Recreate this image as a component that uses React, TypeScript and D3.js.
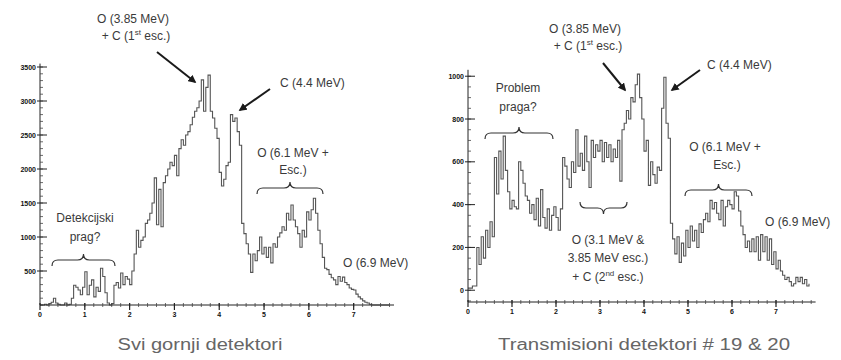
import React from "react";
import * as d3 from "d3";

// energy bins of 0.05 MeV, starting at 0
const BIN = 0.05;
const energyTicks = [0, 1, 2, 3, 4, 5, 6, 7];

// Svi gornji detektori
const gornjiCounts = [
  0, 0, 10, 0, 20, 40, 100, 30, 10, 0, 0, 30, 0, 10, 100, 290, 260, 220, 150, 260,
  490, 150, 290, 370, 120, 260, 200, 540, 420, 180, 30, 0, 20, 290, 330, 250, 470, 300, 420, 380,
  300, 500, 750, 1100, 850, 950, 1000, 1200, 1250, 1350, 1500, 1870, 1180, 1700, 1150, 1800, 1900, 2000, 2100, 2050,
  2200, 1900, 2300, 2430, 2350, 2500, 2550, 2650, 2760, 2850, 2900, 3000, 3310, 2850, 3200, 3380, 2850, 2750, 2600, 2450,
  1950, 1750, 1850, 2050, 2100, 2800, 2700, 2750, 2550, 2350, 1200, 1050, 900, 750, 480, 750, 650, 800, 1000, 750,
  850, 700, 850, 620, 900, 850, 1000, 1060, 1150, 1100, 1350, 1250, 1470, 1250, 1150, 1050, 850, 1100, 1000, 1370,
  1250, 1400, 1570, 1350, 1100, 900, 700, 540, 520, 450, 400, 370, 300, 420, 350, 410, 330, 300, 250, 230,
  220, 160, 120, 90, 60, 40, 30, 10, 0, 0, 0, 0, 0, 0, 0, 0, 0,
];
const gornjiTicks = [500, 1000, 1500, 2000, 2500, 3000, 3500];

// Transmisioni detektori # 19 & 20
const transCounts = [
  10, 10, 20, 20, 200, 120, 250, 150, 280, 200, 320, 250, 620, 450, 650, 520, 720, 560, 460, 380,
  420, 390, 380, 600, 560, 500, 440, 420, 360, 400, 330, 430, 300, 470, 340, 290, 380, 280, 350, 390,
  340, 280, 380, 620, 580, 520, 480, 600, 550, 750, 580, 640, 560, 720, 600, 480, 700, 620, 680, 650,
  700, 600, 690, 620, 680, 600, 660, 620, 700, 510, 750, 780, 840, 800, 900, 880, 960, 1010, 900, 800,
  650, 700, 490, 600, 540, 500, 575, 560, 850, 995, 780, 710, 313, 240, 170, 250, 130, 220, 160, 280,
  200, 300, 230, 280, 200, 310, 270, 330, 360, 320, 420, 380, 410, 360, 330, 420, 300, 390, 420, 400,
  380, 460, 440, 370, 300, 260, 200, 230, 180, 240, 180, 250, 140, 260, 180, 250, 140, 240, 120, 180,
  100, 140, 90, 70, 50, 60, 40, 20, 30, 60, 40, 60, 30, 50, 20, 30,
];
const transTicks = [0, 200, 400, 600, 800, 1000];

const font = "Liberation Sans, Arial, sans-serif";

function Spectrum({ counts, xScale, yScale, yTicks, yMinor }) {
  const x0 = xScale.range()[0];
  const x1 = xScale.range()[1];
  const yBase = yScale.range()[0];
  const yTop = yScale.range()[1];
  const [d0, d1] = yScale.domain();

  const line = d3
    .line<number>()
    .x((_, i) => xScale(i * BIN))
    .y((d) => yScale(d))
    .curve(d3.curveStepAfter);

  const xMinor = d3.range(0.2, 7.81, 0.2);
  const yMinorTicks = d3.range(Math.ceil(d0 / yMinor) * yMinor, d1, yMinor);

  return (
    <g>
      <path d={line(counts)} fill="none" stroke="#555" strokeWidth={1.1} />
      {/* y axis */}
      <line x1={x0} x2={x0} y1={yBase} y2={yTop} stroke="#222" strokeWidth={1} />
      {yMinorTicks.map((t) => (
        <line key={"ym" + t} x1={x0} x2={x0 + 3} y1={yScale(t)} y2={yScale(t)} stroke="#444" strokeWidth={0.8} />
      ))}
      {yTicks.map((t) => (
        <g key={"y" + t}>
          <line x1={x0 - 3} x2={x0 + 7} y1={yScale(t)} y2={yScale(t)} stroke="#222" strokeWidth={1} />
          <text x={x0 - 4} y={yScale(t) + 2.5} textAnchor="end" fontSize={7} fontWeight="bold" fontFamily={font} fill="#111">
            {t}
          </text>
        </g>
      ))}
      {/* x axis */}
      <line x1={x0} x2={x1} y1={yBase} y2={yBase} stroke="#222" strokeWidth={1} />
      {xMinor.map((t) => (
        <line key={"xm" + t} x1={xScale(t)} x2={xScale(t)} y1={yBase - 2} y2={yBase + 2} stroke="#444" strokeWidth={0.8} />
      ))}
      {energyTicks.map((t) => (
        <g key={"x" + t}>
          <line x1={xScale(t)} x2={xScale(t)} y1={yBase - 2} y2={yBase + 5} stroke="#222" strokeWidth={1.2} />
          <text x={xScale(t)} y={yBase + 12} textAnchor="middle" fontSize={7} fontWeight="bold" fontFamily={font} fill="#111">
            {t}
          </text>
        </g>
      ))}
    </g>
  );
}

function brace(x1: number, x2: number, y: number, s: number) {
  const h = 6;
  const m = (x1 + x2) / 2;
  return `M${x1},${y + s * h} Q${x1},${y} ${x1 + h},${y} L${m - h},${y} Q${m},${y} ${m},${y - s * h} Q${m},${y} ${m + h},${y} L${x2 - h},${y} Q${x2},${y} ${x2},${y + s * h}`;
}

function Label({ x, y, anchor = "middle", children }) {
  return (
    <text x={x} y={y} textAnchor={anchor} fontSize={12} fontFamily={font} fill="#3a3a3a">
      {children}
    </text>
  );
}

function Arrow({ x1, y1, x2, y2 }) {
  return <line x1={x1} y1={y1} x2={x2} y2={y2} stroke="#1a1a1a" strokeWidth={2} markerEnd="url(#arrowHead)" />;
}

export default function App() {
  const xLeft = d3.scaleLinear().domain([0, 7.9]).range([40, 394]);
  const yLeft = d3.scaleLinear().domain([0, 3550]).range([305, 63.6]);
  const xRight = d3.scaleLinear().domain([0, 7.9]).range([468, 815.6]);
  const yRight = d3.scaleLinear().domain([-55, 1030]).range([302, 69.8]);

  return (
    <div style={{ position: "absolute", left: 0, top: 0 }}>
      <svg width={841} height={360} style={{ display: "block", background: "#fff" }}>
        <defs>
          <marker id="arrowHead" viewBox="0 0 10 10" refX={8} refY={5} markerWidth={4} markerHeight={4} orient="auto">
            <path d="M0,0 L10,5 L0,10 z" fill="#1a1a1a" />
          </marker>
        </defs>

        <Spectrum counts={gornjiCounts} xScale={xLeft} yScale={yLeft} yTicks={gornjiTicks} yMinor={100} />
        <Spectrum counts={transCounts} xScale={xRight} yScale={yRight} yTicks={transTicks} yMinor={50} />

        {/* left panel annotations */}
        <Label x={133} y={23}>O (3.85 MeV)</Label>
        <Label x={136} y={40}>
          + C (1<tspan fontSize={8} dy={-5}>st</tspan>
          <tspan dy={5}> esc.)</tspan>
        </Label>
        <Arrow x1={157} y1={52} x2={195} y2={82} />
        <Label x={280} y={87} anchor="start">C (4.4 MeV)</Label>
        <Arrow x1={270} y1={89} x2={240} y2={110} />
        <Label x={293} y={157}>O (6.1 MeV +</Label>
        <Label x={293} y={174}>Esc.)</Label>
        <path d={brace(257, 323, 188, 1)} fill="none" stroke="#333" strokeWidth={1.2} />
        <Label x={85} y={222}>Detekcijski</Label>
        <Label x={85} y={241}>prag?</Label>
        <path d={brace(52, 115, 260, 1)} fill="none" stroke="#333" strokeWidth={1.2} />
        <Label x={343} y={267} anchor="start">O (6.9 MeV)</Label>

        {/* right panel annotations */}
        <Label x={585} y={33}>O (3.85 MeV)</Label>
        <Label x={588} y={50}>
          + C (1<tspan fontSize={8} dy={-5}>st</tspan>
          <tspan dy={5}> esc.)</tspan>
        </Label>
        <Arrow x1={603} y1={63} x2={625} y2={90} />
        <Label x={707} y={69} anchor="start">C (4.4 MeV)</Label>
        <Arrow x1={700} y1={70} x2={672} y2={90} />
        <Label x={518} y={92}>Problem</Label>
        <Label x={518} y={111}>praga?</Label>
        <path d={brace(485, 553, 133, 1)} fill="none" stroke="#333" strokeWidth={1.2} />
        <Label x={725} y={151}>O (6.1 MeV +</Label>
        <Label x={727} y={169}>Esc.)</Label>
        <path d={brace(685, 752, 190, 1)} fill="none" stroke="#333" strokeWidth={1.2} />
        <path d={brace(580, 627, 208, -1)} fill="none" stroke="#333" strokeWidth={1.2} />
        <Label x={608} y={244}>O (3.1 MeV &amp;</Label>
        <Label x={608} y={262}>3.85 MeV esc.)</Label>
        <Label x={608} y={281}>
          + C (2<tspan fontSize={8} dy={-5}>nd</tspan>
          <tspan dy={5}> esc.)</tspan>
        </Label>
        <Label x={765} y={226} anchor="start">O (6.9 MeV)</Label>

        {/* panel titles */}
        <text x={200} y={350} textAnchor="middle" fontSize={16} fontFamily={font} fill="#666" textLength={165} lengthAdjust="spacingAndGlyphs">
          Svi gornji detektori
        </text>
        <text x={644} y={350} textAnchor="middle" fontSize={16} fontFamily={font} fill="#666" textLength={292} lengthAdjust="spacingAndGlyphs">
          Transmisioni detektori # 19 &amp; 20
        </text>
      </svg>
    </div>
  );
}
